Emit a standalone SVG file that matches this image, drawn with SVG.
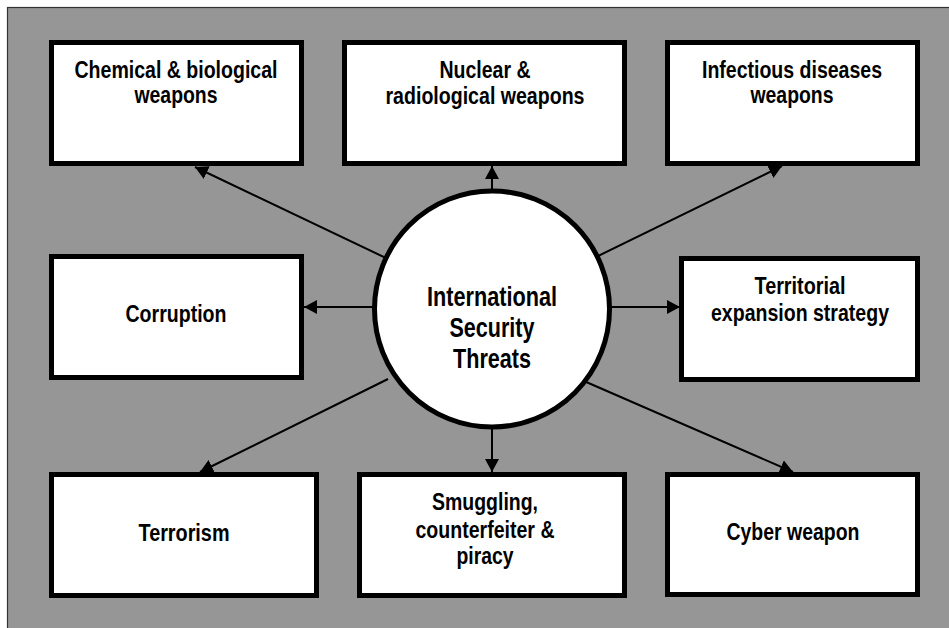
<svg xmlns="http://www.w3.org/2000/svg" width="949" height="628" viewBox="0 0 949 628">
<style>
.box{fill:#fff;stroke:#000;stroke-width:5}
.t{font-family:"Liberation Sans Narrow","Arial Narrow","Liberation Sans",Arial,sans-serif;font-weight:bold;font-size:23px;fill:#000;text-anchor:middle}
.tc{font-size:27px}
.c{stroke:#000;stroke-width:2;fill:none;marker-end:url(#ah)}
</style>
<defs>
<marker id="ah" markerUnits="userSpaceOnUse" markerWidth="14" markerHeight="14" refX="13" refY="7" orient="auto">
<path d="M0,0 L13,7 L0,14 z" fill="#000"/>
</marker>
</defs>
<rect x="0" y="0" width="949" height="628" fill="#fff"/>
<rect x="7.5" y="7.5" width="950" height="630" fill="#969696" stroke="#333" stroke-width="1.2"/>
<g id="connectors">
<line class="c" x1="388" y1="259" x2="195" y2="167"/>
<line class="c" x1="492" y1="190" x2="492" y2="166"/>
<line class="c" x1="594" y1="258" x2="782" y2="166"/>
<line class="c" x1="373" y1="307" x2="304" y2="307"/>
<line class="c" x1="611" y1="307" x2="680" y2="307"/>
<line class="c" x1="388" y1="379" x2="200" y2="472"/>
<line class="c" x1="492" y1="428" x2="492" y2="472"/>
<line class="c" x1="577" y1="378" x2="793" y2="472"/>
</g>
<g id="center">
<ellipse cx="492" cy="309" rx="117.5" ry="118" fill="#fff" stroke="#000" stroke-width="5"/>
<text class="t tc" x="492" y="306" textLength="130" lengthAdjust="spacingAndGlyphs">International</text>
<text class="t tc" x="492" y="337" textLength="85" lengthAdjust="spacingAndGlyphs">Security</text>
<text class="t tc" x="492" y="368" textLength="78" lengthAdjust="spacingAndGlyphs">Threats</text>
</g>
<g id="chemical">
<rect class="box" x="51.5" y="42.5" width="250" height="121"/>
<text class="t" x="176" y="78" textLength="203" lengthAdjust="spacingAndGlyphs">Chemical &amp; biological</text>
<text class="t" x="176" y="103" textLength="83" lengthAdjust="spacingAndGlyphs">weapons</text>
</g>
<g id="nuclear">
<rect class="box" x="344.5" y="42.5" width="280" height="121"/>
<text class="t" x="485" y="78" textLength="91" lengthAdjust="spacingAndGlyphs">Nuclear &amp;</text>
<text class="t" x="485" y="104" textLength="199" lengthAdjust="spacingAndGlyphs">radiological weapons</text>
</g>
<g id="infectious">
<rect class="box" x="667.5" y="42.5" width="250" height="121"/>
<text class="t" x="792" y="78" textLength="180" lengthAdjust="spacingAndGlyphs">Infectious diseases</text>
<text class="t" x="792" y="103" textLength="83" lengthAdjust="spacingAndGlyphs">weapons</text>
</g>
<g id="corruption">
<rect class="box" x="51.5" y="256.5" width="250" height="121"/>
<text class="t" x="176" y="322" textLength="101" lengthAdjust="spacingAndGlyphs">Corruption</text>
</g>
<g id="territorial">
<rect class="box" x="681.5" y="258.5" width="236" height="121"/>
<text class="t" x="800" y="294" textLength="91" lengthAdjust="spacingAndGlyphs">Territorial</text>
<text class="t" x="800" y="321" textLength="178" lengthAdjust="spacingAndGlyphs">expansion strategy</text>
</g>
<g id="terrorism">
<rect class="box" x="51.5" y="474.5" width="265" height="121"/>
<text class="t" x="184" y="541" textLength="91" lengthAdjust="spacingAndGlyphs">Terrorism</text>
</g>
<g id="smuggling">
<rect class="box" x="359.5" y="474.5" width="265" height="121"/>
<text class="t" x="485" y="510" textLength="106" lengthAdjust="spacingAndGlyphs">Smuggling,</text>
<text class="t" x="485" y="538" textLength="139" lengthAdjust="spacingAndGlyphs">counterfeiter &amp;</text>
<text class="t" x="485" y="564" textLength="57" lengthAdjust="spacingAndGlyphs">piracy</text>
</g>
<g id="cyber">
<rect class="box" x="667.5" y="474.5" width="250" height="120"/>
<text class="t" x="793" y="540" textLength="133" lengthAdjust="spacingAndGlyphs">Cyber weapon</text>
</g>
</svg>
